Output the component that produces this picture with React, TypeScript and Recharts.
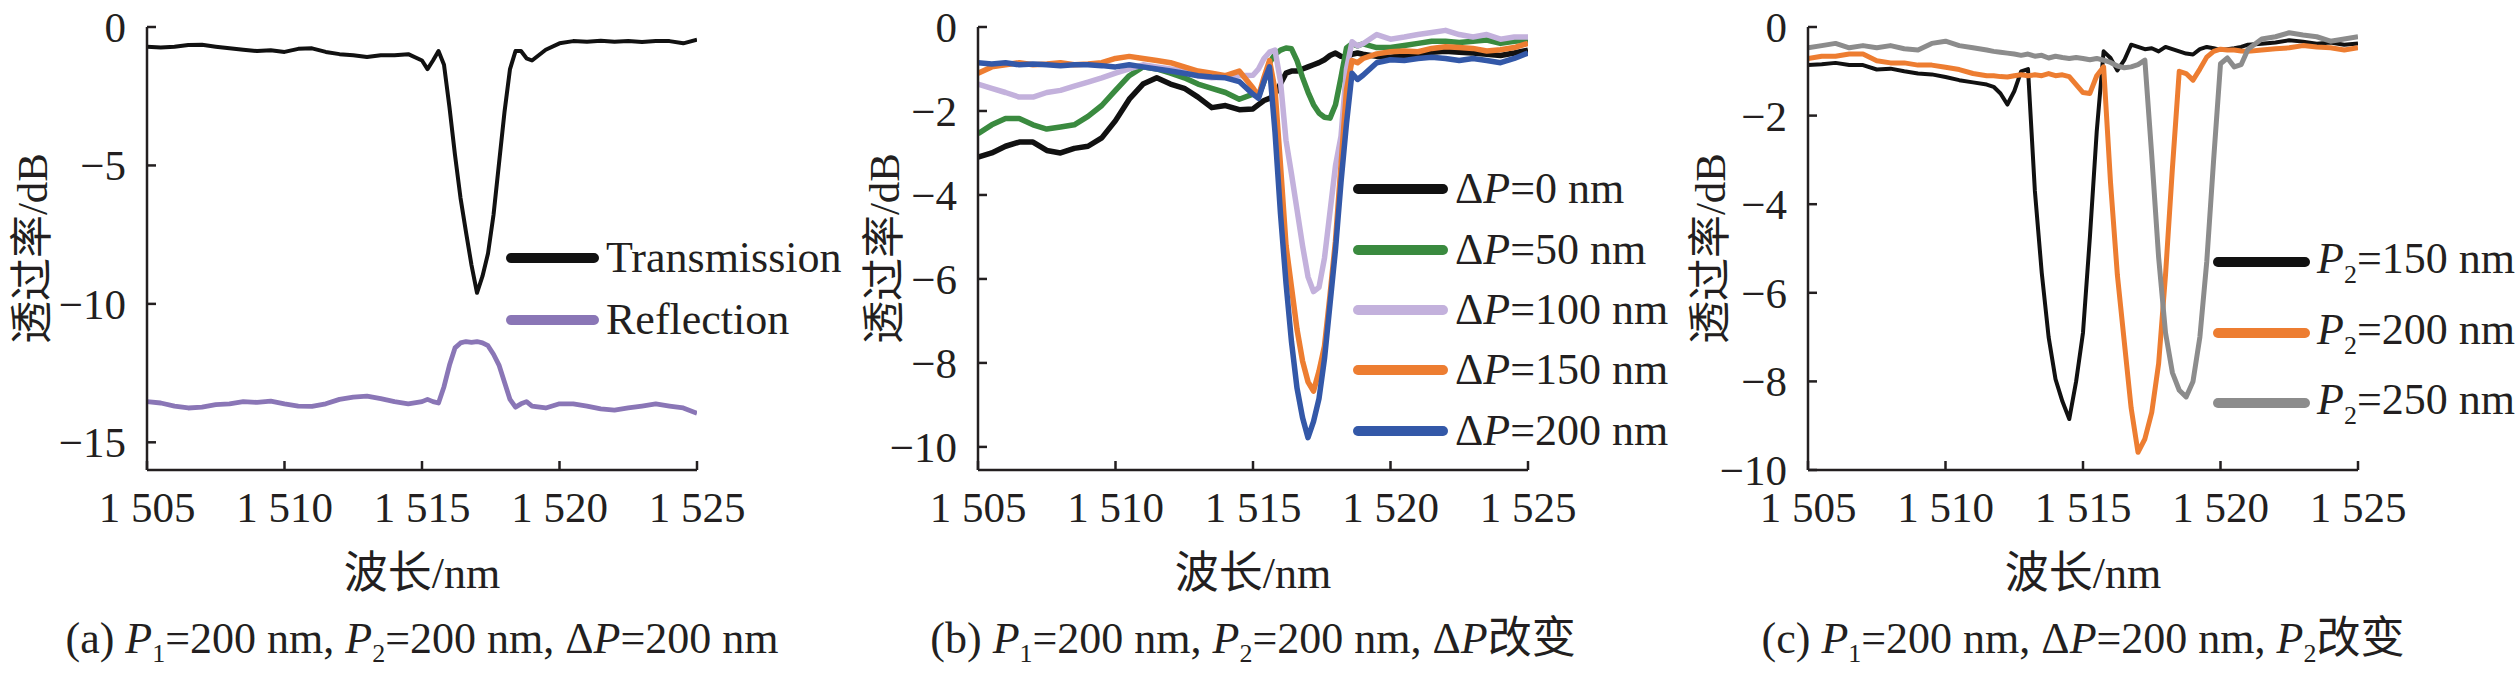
import React from 'react'
import { Legend, Line, LineChart, XAxis, YAxis } from 'recharts'

const SERIF = "'Liberation Serif', serif"
const CJK = "'Noto Sans CJK SC', sans-serif"
const FONT = "'Liberation Serif', 'Noto Sans CJK SC', serif"
const INK = '#231f20'

// wavelength samples (nm) shared by panels (a) and (b)
const wavelengthAB = [
  1505, 1505.5, 1506, 1506.5, 1507, 1507.5, 1508, 1508.5, 1509, 1509.5, 1510, 1510.5, 1511, 1511.5, 1512,
  1512.5, 1513, 1513.5, 1514, 1514.5, 1515, 1515.2, 1515.4, 1515.6, 1515.8, 1516, 1516.2, 1516.4, 1516.6,
  1516.8, 1517, 1517.2, 1517.4, 1517.6, 1517.8, 1518, 1518.2, 1518.4, 1518.6, 1518.8, 1519, 1519.5, 1520,
  1520.5, 1521, 1521.5, 1522, 1522.5, 1523, 1523.5, 1524, 1524.5, 1525
]

// (a)
const transmission = [
  -0.71, -0.74, -0.71, -0.65, -0.64, -0.71, -0.77, -0.82, -0.87, -0.84, -0.9, -0.79, -0.77, -0.9, -0.98,
  -1.02, -1.08, -1.02, -1.02, -0.98, -1.21, -1.52, -1.21, -0.87, -1.36, -2.91, -4.62, -6.17, -7.41, -8.6,
  -9.6, -9.0, -8.18, -6.79, -4.93, -3.07, -1.52, -0.87, -0.87, -1.13, -1.21, -0.82, -0.59, -0.51, -0.53,
  -0.5, -0.53, -0.51, -0.54, -0.51, -0.51, -0.59, -0.46
]
const reflection = [
  -13.53, -13.58, -13.69, -13.76, -13.73, -13.64, -13.61, -13.53, -13.56, -13.51, -13.61, -13.69, -13.7,
  -13.61, -13.45, -13.37, -13.33, -13.42, -13.53, -13.61, -13.53, -13.45, -13.53, -13.58, -12.99, -12.21,
  -11.59, -11.41, -11.36, -11.39, -11.36, -11.41, -11.51, -11.82, -12.21, -12.83, -13.45, -13.73, -13.61,
  -13.53, -13.69, -13.76, -13.61, -13.61, -13.69, -13.79, -13.84, -13.76, -13.69, -13.61, -13.69, -13.76,
  -13.95
]

// (b)
const dp0 = [
  -3.1, -3.0, -2.84, -2.74, -2.74, -2.94, -3.0, -2.89, -2.84, -2.64, -2.23, -1.72, -1.36, -1.21, -1.36,
  -1.46, -1.67, -1.92, -1.87, -1.97, -1.95, -1.85, -1.75, -1.7, -1.6, -1.35, -1.1, -1.05, -1.05, -1.0,
  -0.95, -0.9, -0.85, -0.78, -0.68, -0.62, -0.7, -0.72, -0.65, -0.62, -0.65, -0.7, -0.72, -0.68, -0.65,
  -0.6, -0.58, -0.6, -0.62, -0.65, -0.68, -0.62, -0.55
]
const dp50 = [
  -2.54, -2.33, -2.18, -2.18, -2.33, -2.43, -2.38, -2.33, -2.13, -1.87, -1.51, -1.16, -0.95, -1.0, -1.1,
  -1.21, -1.36, -1.46, -1.56, -1.72, -1.6, -1.65, -1.3, -0.85, -0.65, -0.55, -0.5, -0.52, -0.8, -1.2,
  -1.55, -1.85, -2.05, -2.15, -2.17, -1.85, -1.2, -0.5, -0.4, -0.45, -0.4, -0.49, -0.49, -0.44, -0.39,
  -0.34, -0.34, -0.37, -0.34, -0.31, -0.39, -0.34, -0.31
]
const dp100 = [
  -1.36, -1.46, -1.56, -1.67, -1.67, -1.56, -1.51, -1.41, -1.31, -1.21, -1.1, -1.0, -0.9, -0.95, -1.0,
  -1.05, -1.16, -1.21, -1.19, -1.16, -1.15, -1.0, -0.75, -0.6, -0.55, -1.3, -2.7, -3.5, -4.35, -5.2,
  -5.95, -6.3, -6.2, -5.5, -4.4, -3.3, -2.6, -1.0, -0.35, -0.45, -0.4, -0.18, -0.29, -0.24, -0.18,
  -0.13, -0.08, -0.18, -0.24, -0.18, -0.29, -0.24, -0.24
]
const dp150 = [
  -1.1, -0.95, -0.9, -0.85, -0.9, -0.88, -0.85, -0.9, -0.88, -0.85, -0.75, -0.7, -0.75, -0.8, -0.85,
  -0.95, -1.05, -1.1, -1.16, -1.05, -1.45, -1.65, -1.2, -0.8, -1.5, -3.3, -5.2, -6.2, -7.2, -7.95,
  -8.45, -8.67, -8.2, -7.6, -6.4, -5.1, -3.3, -1.5, -0.8, -0.85, -0.75, -0.64, -0.59, -0.57, -0.59,
  -0.51, -0.47, -0.49, -0.51, -0.57, -0.54, -0.49, -0.39
]
const dp200 = [
  -0.85, -0.88, -0.85, -0.9, -0.88, -0.9, -0.92, -0.9, -0.9, -0.92, -0.95, -0.9, -0.95, -1.0, -1.05,
  -1.1, -1.16, -1.19, -1.21, -1.3, -1.6, -1.7, -1.3, -0.95, -2.5, -4.45, -6.1, -7.5, -8.6, -9.3,
  -9.78, -9.4, -8.85, -7.9, -6.6, -5.3, -3.7, -2.3, -1.1, -1.25, -1.15, -0.85, -0.78, -0.8, -0.75,
  -0.72, -0.75, -0.8, -0.75, -0.8, -0.85, -0.75, -0.62
]

// (c)
const wavelengthC = [
  1505, 1505.5, 1506, 1506.5, 1507, 1507.5, 1508, 1508.5, 1509, 1509.5, 1510, 1510.5, 1511, 1511.5,
  1511.75, 1512, 1512.25, 1512.5, 1512.75, 1513, 1513.25, 1513.5, 1513.75, 1514, 1514.25, 1514.5, 1514.75,
  1515, 1515.25, 1515.5, 1515.75, 1516, 1516.25, 1516.5, 1516.75, 1517, 1517.25, 1517.5, 1517.75, 1518,
  1518.25, 1518.5, 1518.75, 1519, 1519.25, 1519.5, 1519.75, 1520, 1520.25, 1520.5, 1520.75, 1521,
  1521.5, 1522, 1522.5, 1523, 1523.5, 1524, 1524.5, 1525
]
const p150 = [
  -0.86, -0.84, -0.81, -0.86, -0.86, -0.96, -0.94, -1.0, -1.05, -1.07, -1.13, -1.2, -1.25, -1.3,
  -1.35, -1.5, -1.75, -1.45, -1.0, -0.95, -3.7, -5.55, -7.0, -7.95, -8.45, -8.85, -8.0, -6.9, -4.75,
  -2.35, -0.55, -0.7, -0.98, -0.75, -0.4, -0.45, -0.5, -0.48, -0.55, -0.45, -0.5, -0.55, -0.6, -0.62,
  -0.5, -0.45, -0.48, -0.52, -0.5, -0.48, -0.45, -0.4,
  -0.38, -0.35, -0.3, -0.33, -0.38, -0.35, -0.4, -0.37
]
const p200 = [
  -0.71, -0.66, -0.66, -0.61, -0.61, -0.76, -0.81, -0.81, -0.86, -0.86, -0.91, -0.96, -1.05, -1.1,
  -1.1, -1.12, -1.13, -1.1, -1.08, -1.1, -1.08, -1.1, -1.05, -1.1, -1.08, -1.12, -1.3, -1.48, -1.5,
  -1.1, -0.9, -3.5, -5.6, -7.1, -8.6, -9.6, -9.3, -8.7, -7.6, -5.6, -3.2, -1.0, -1.05, -1.2,
  -0.95, -0.68, -0.55, -0.5, -0.52, -0.52, -0.54, -0.55,
  -0.52, -0.49, -0.47, -0.42, -0.45, -0.47, -0.52, -0.47
]
const p250 = [
  -0.47, -0.42, -0.37, -0.47, -0.42, -0.47, -0.42, -0.49, -0.52, -0.37, -0.32, -0.42, -0.47, -0.52,
  -0.55, -0.57, -0.59, -0.61, -0.64, -0.61, -0.66, -0.64, -0.7, -0.66, -0.69, -0.71, -0.69, -0.71, -0.74,
  -0.71, -0.75, -0.8, -0.88, -0.92, -0.9, -0.85, -0.75, -2.9, -5.2, -6.9, -7.8, -8.2, -8.35, -8.0,
  -7.0, -5.3, -3.0, -0.83, -0.7, -0.9, -0.85, -0.5,
  -0.27, -0.22, -0.13, -0.18, -0.22, -0.32, -0.27, -0.22
]

const xTicks = [1505, 1510, 1515, 1520, 1525]
const yTicksA = [0, -5, -10, -15]
const yTicksBC = [0, -2, -4, -6, -8, -10]

const formatWavelength = (v: number) => `1 ${String(v).slice(1)}`
const formatDb = (v: number) => (v < 0 ? `\u2212${Math.abs(v)}` : String(v))

function toRows(wavelengths: number[], series: Record<string, number[]>) {
  return wavelengths.map((w, i) => {
    const row: Record<string, number> = { wavelength: w }
    Object.keys(series).forEach((k) => {
      row[k] = series[k][i]
    })
    return row
  })
}

const dataA = toRows(wavelengthAB, { transmission, reflection })
const dataB = toRows(wavelengthAB, { dp0, dp50, dp100, dp150, dp200 })
const dataC = toRows(wavelengthC, { p150, p200, p250 })

const Sub = ({ children }: { children: React.ReactNode }) => (
  <span style={{ fontSize: 26, position: 'relative', top: 10 }}>{children}</span>
)
const DeltaP = ({ v }: { v: number }) => (
  <>
    Δ<i>P</i>={v} nm
  </>
)
const P2 = ({ v }: { v: number }) => (
  <>
    <i>P</i>
    <Sub>2</Sub>={v} nm
  </>
)

interface SeriesDef {
  key: string
  color: string
  width: number
  label: React.ReactNode
}

const seriesA: SeriesDef[] = [
  { key: 'transmission', color: '#111111', width: 4, label: 'Transmission' },
  { key: 'reflection', color: '#8a76b6', width: 4.8, label: 'Reflection' }
]
const seriesB: SeriesDef[] = [
  { key: 'dp0', color: '#111111', width: 5.5, label: <DeltaP v={0} /> },
  { key: 'dp50', color: '#3a8a3f', width: 5.5, label: <DeltaP v={50} /> },
  { key: 'dp100', color: '#c3b1dc', width: 5.5, label: <DeltaP v={100} /> },
  { key: 'dp150', color: '#ed7d31', width: 5.5, label: <DeltaP v={150} /> },
  { key: 'dp200', color: '#3358a8', width: 5.5, label: <DeltaP v={200} /> }
]
const seriesC: SeriesDef[] = [
  { key: 'p150', color: '#111111', width: 4, label: <P2 v={150} /> },
  { key: 'p200', color: '#ed7d31', width: 5, label: <P2 v={200} /> },
  { key: 'p250', color: '#8c8c8c', width: 5, label: <P2 v={250} /> }
]

type Part = { text: string; italic?: boolean; sub?: boolean }
const captionA: Part[] = [
  { text: '(a) ' }, { text: 'P', italic: true }, { text: '1', sub: true }, { text: '=200 nm, ' },
  { text: 'P', italic: true }, { text: '2', sub: true }, { text: '=200 nm, Δ' },
  { text: 'P', italic: true }, { text: '=200 nm' }
]
const captionB: Part[] = [
  { text: '(b) ' }, { text: 'P', italic: true }, { text: '1', sub: true }, { text: '=200 nm, ' },
  { text: 'P', italic: true }, { text: '2', sub: true }, { text: '=200 nm, Δ' },
  { text: 'P', italic: true }, { text: '改变' }
]
const captionC: Part[] = [
  { text: '(c) ' }, { text: 'P', italic: true }, { text: '1', sub: true }, { text: '=200 nm, Δ' },
  { text: 'P', italic: true }, { text: '=200 nm, ' }, { text: 'P', italic: true }, { text: '2', sub: true },
  { text: '改变' }
]

function XTick({ x, y, payload }: any) {
  return (
    <text x={x} y={y} dy="0.71em" textAnchor="middle" fill={INK} fontSize={43} fontFamily={SERIF}>
      {formatWavelength(payload.value)}
    </text>
  )
}

function YTick({ x, y, payload }: any) {
  return (
    <text x={x} y={y} dy="0.35em" textAnchor="end" fill={INK} fontSize={43} fontFamily={SERIF}>
      {formatDb(payload.value)}
    </text>
  )
}

function Caption({ parts }: { parts: Part[] }) {
  let shifted = false
  return (
    <text x={422} y={653} textAnchor="middle" fontFamily={FONT} fontSize={44} fill={INK}>
      {parts.map((p, i) => {
        const dy = p.sub ? (shifted ? 0 : 9) : shifted ? -9 : 0
        shifted = !!p.sub
        return (
          <tspan
            key={i}
            dy={dy || undefined}
            fontStyle={p.italic ? 'italic' : undefined}
            fontSize={p.sub ? 26 : undefined}
          >
            {p.text}
          </tspan>
        )
      })}
    </text>
  )
}

function LegendRows({ items, rowHeight, lineWidth }: { items: SeriesDef[]; rowHeight: number; lineWidth: number }) {
  return (
    <div style={{ fontFamily: SERIF, fontSize: 44, color: INK }}>
      {items.map((it) => (
        <div key={it.key} style={{ height: rowHeight, display: 'flex', alignItems: 'center', whiteSpace: 'nowrap' }}>
          <span
            style={{ width: lineWidth, height: 10, borderRadius: 5, background: it.color, marginRight: 7, flex: 'none' }}
          />
          <span style={{ lineHeight: '44px' }}>{it.label}</span>
        </div>
      ))}
    </div>
  )
}

interface PanelProps {
  left: number
  data: Record<string, number>[]
  series: SeriesDef[]
  yDomain: [number, number]
  yTicks: number[]
  titleX: number
  legend: { left: number; top: number; rowHeight: number; lineWidth: number }
  caption: Part[]
}

function Panel({ left, data, series, yDomain, yTicks, titleX, legend, caption }: PanelProps) {
  return (
    <div style={{ position: 'absolute', left, top: 0, width: 830, height: 674, fontFamily: SERIF }}>
      <LineChart width={830} height={674} data={data} margin={{ top: 27, right: 133, bottom: 0, left: 0 }}>
        <XAxis
          dataKey="wavelength"
          type="number"
          domain={[1505, 1525]}
          ticks={xTicks}
          interval={0}
          allowDataOverflow
          height={204}
          tickSize={-9}
          tickMargin={30}
          axisLine={{ stroke: INK, strokeWidth: 2.5 }}
          tickLine={{ stroke: INK, strokeWidth: 2.5 }}
          tick={<XTick />}
        />
        <YAxis
          type="number"
          domain={yDomain}
          ticks={yTicks}
          interval={0}
          allowDataOverflow
          width={147}
          tickSize={-9}
          tickMargin={30}
          axisLine={{ stroke: INK, strokeWidth: 2.5 }}
          tickLine={{ stroke: INK, strokeWidth: 2.5 }}
          tick={<YTick />}
        />
        <Legend
          layout="vertical"
          align="center"
          verticalAlign="middle"
          wrapperStyle={{ left: legend.left, top: legend.top, width: 'auto' }}
          content={() => <LegendRows items={series} rowHeight={legend.rowHeight} lineWidth={legend.lineWidth} />}
        />
        {series.map((s) => (
          <Line
            key={s.key}
            type="linear"
            dataKey={s.key}
            stroke={s.color}
            strokeWidth={s.width}
            strokeLinejoin="round"
            dot={false}
            activeDot={false}
            isAnimationActive={false}
          />
        ))}
      </LineChart>
      <svg
        width={830}
        height={674}
        style={{ position: 'absolute', left: 0, top: 0, pointerEvents: 'none', overflow: 'visible' }}
      >
        <text x={422} y={588} textAnchor="middle" fontSize={44} fill={INK}>
          <tspan fontFamily={CJK}>波长</tspan>
          <tspan fontFamily={SERIF}>/nm</tspan>
        </text>
        <text
          x={titleX}
          y={248.5}
          dy="0.36em"
          textAnchor="middle"
          transform={`rotate(-90, ${titleX}, 248.5)`}
          fontSize={43}
          fill={INK}
        >
          <tspan fontFamily={CJK}>透过率</tspan>
          <tspan fontFamily={SERIF}>/dB</tspan>
        </text>
        <Caption parts={caption} />
      </svg>
    </div>
  )
}

export default function App() {
  return (
    <div style={{ position: 'absolute', left: 0, top: 0, width: 2519, height: 674, background: '#fff' }}>
      <Panel
        left={0}
        data={dataA}
        series={seriesA}
        yDomain={[-16, 0]}
        yTicks={yTicksA}
        titleX={32}
        legend={{ left: 506, top: 227, rowHeight: 62, lineWidth: 93 }}
        caption={captionA}
      />
      <Panel
        left={831}
        data={dataB}
        series={seriesB}
        yDomain={[-10.55, 0]}
        yTicks={yTicksBC}
        titleX={53}
        legend={{ left: 522, top: 159, rowHeight: 60.4, lineWidth: 95 }}
        caption={captionB}
      />
      <Panel
        left={1661}
        data={dataC}
        series={seriesC}
        yDomain={[-10, 0]}
        yTicks={yTicksBC}
        titleX={49}
        legend={{ left: 552, top: 227, rowHeight: 70.5, lineWidth: 97 }}
        caption={captionC}
      />
    </div>
  )
}
